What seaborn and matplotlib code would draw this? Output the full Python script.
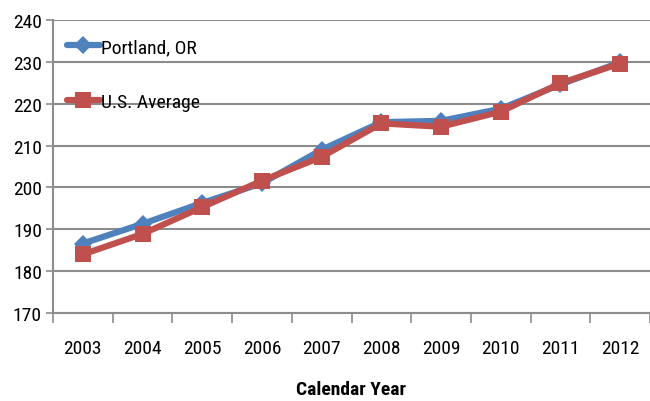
import matplotlib
matplotlib.use("Agg")
import matplotlib.pyplot as plt
import seaborn as sns
import pandas as pd
import numpy as np
from matplotlib import font_manager
from matplotlib.ticker import FixedLocator, NullFormatter, FixedFormatter

years = ["2003", "2004", "2005", "2006", "2007", "2008", "2009", "2010", "2011", "2012"]
portland = [186.6, 191.3, 196.3, 201.0, 209.0, 215.6, 215.9, 218.8, 224.6, 229.9]
us_average = [184.0, 188.9, 195.3, 201.6, 207.3, 215.3, 214.5, 218.1, 224.9, 229.6]
yticks = [170, 180, 190, 200, 210, 220, 230, 240]

sns.set_style("white")
installed = {f.name for f in font_manager.fontManager.ttflist}
narrow = [n for n in ["Liberation Sans Narrow", "DejaVu Sans Condensed", "Roboto Condensed",
                      "Open Sans Condensed", "Noto Sans Condensed"] if n in installed]
plt.rcParams["font.family"] = narrow + ["Liberation Sans", "DejaVu Sans"]

df = pd.DataFrame({
    "pos": list(range(len(years))) * 2,
    "value": portland + us_average,
    "series": ["Portland, OR"] * len(years) + ["U.S. Average"] * len(years),
})

fig = plt.figure(figsize=(6.5, 4.02), dpi=100)
ax = fig.add_axes([53 / 650, 1 - 314 / 402, 597 / 650, 293 / 402])

blue = "#4F81BD"
red = "#C0504D"
sns.lineplot(data=df[df.series == "Portland, OR"], x="pos", y="value", ax=ax,
             color=blue, lw=4.5, marker="D", markersize=9, markeredgewidth=0,
             label="Portland, OR")
sns.lineplot(data=df[df.series == "U.S. Average"], x="pos", y="value", ax=ax,
             color=red, lw=4.5, marker="s", markersize=12, markeredgewidth=0,
             label="U.S. Average")

ax.set_xlim(-0.5, len(years) - 0.5)
ax.set_ylim(170, 240)
ax.set_yticks(yticks)
ax.set_yticklabels([str(t) for t in yticks], fontsize=14)
ax.yaxis.grid(True, color="#8C8C8C", lw=1.5)
ax.set_axisbelow(True)

# category labels sit between the boundary tick marks
ax.xaxis.set_major_locator(FixedLocator(np.arange(-0.5, len(years), 1.0)))
ax.xaxis.set_major_formatter(NullFormatter())
ax.xaxis.set_minor_locator(FixedLocator(np.arange(len(years))))
ax.xaxis.set_minor_formatter(FixedFormatter(years))
ax.tick_params(axis="x", which="major", length=7, color="#8C8C8C", width=1.2, direction="out", bottom=True)
ax.tick_params(axis="x", which="minor", length=0, labelsize=14, pad=19, bottom=True, labelcolor="black")
ax.tick_params(axis="y", length=5, color="#8C8C8C", width=1.2, direction="out", left=True, pad=3,
               labelcolor="black")

for side in ["top", "right"]:
    ax.spines[side].set_visible(False)
for side in ["left", "bottom"]:
    ax.spines[side].set_color("#8C8C8C")
    ax.spines[side].set_linewidth(1.5)

ax.set_xlabel("Calendar Year", fontsize=14, fontweight="bold", labelpad=16, color="black")
ax.set_ylabel("")

leg = ax.legend(loc="upper left", bbox_to_anchor=(0.0, 0.985), frameon=False,
                fontsize=14, handlelength=1.7, handletextpad=0.05,
                labelspacing=1.9, borderaxespad=0.3)
for t in leg.get_texts():
    t.set_color("black")

fig.savefig("out.png", dpi=100)
